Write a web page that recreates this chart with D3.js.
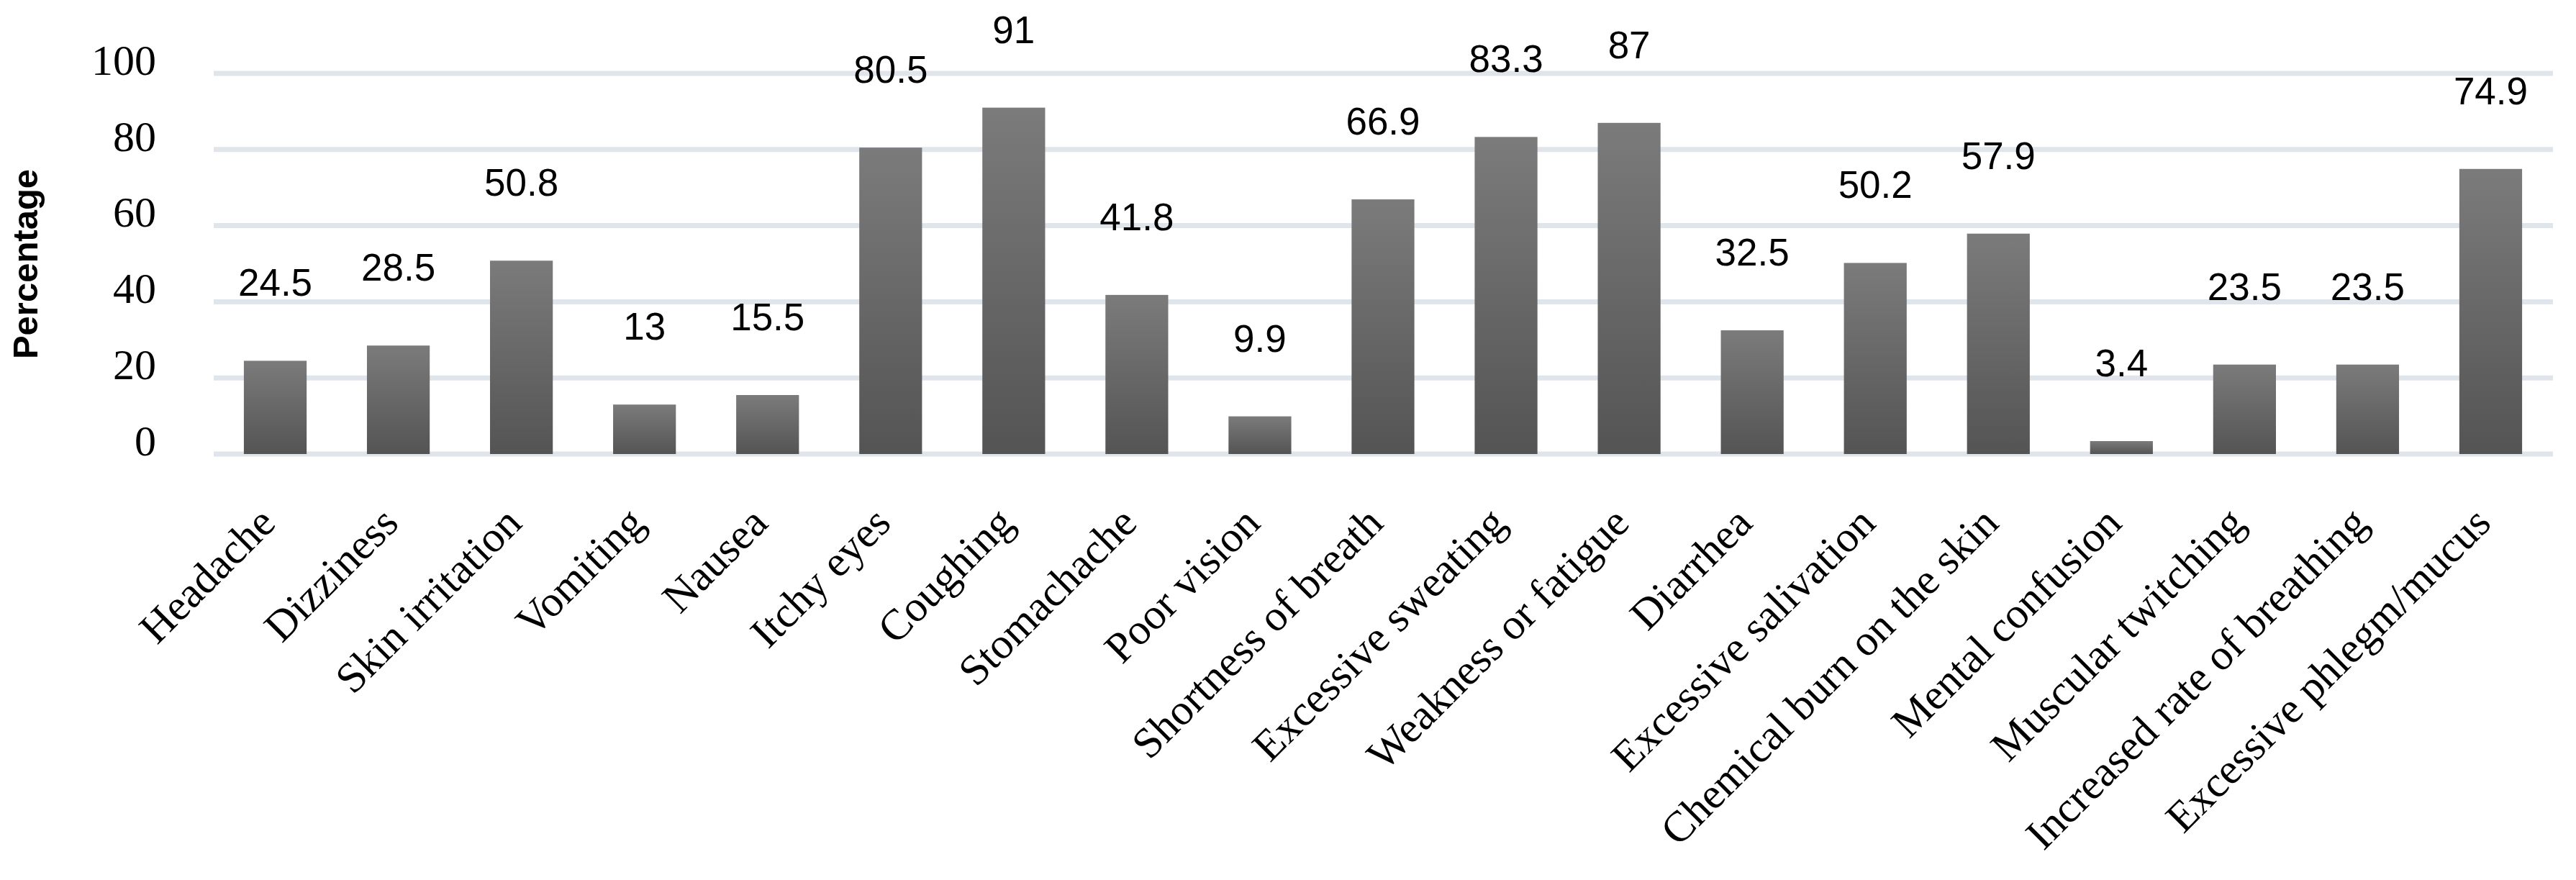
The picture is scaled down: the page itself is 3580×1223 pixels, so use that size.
<!DOCTYPE html>
<html>
<head>
<meta charset="utf-8">
<script src="https://cdn.jsdelivr.net/npm/d3@7"></script>
<style>
	body { margin: 0; background: #fff; }
	svg { display: block; }
</style>
</head>
<body>
<svg id="chart"></svg>
<script>
const width = 3580;
const height = 1223;

// data
const symptoms = ['Headache', 'Dizziness', 'Skin irritation', 'Vomiting', 'Nausea', 'Itchy eyes', 'Coughing',
	'Stomachache', 'Poor vision', 'Shortness of breath', 'Excessive sweating', 'Weakness or fatigue', 'Diarrhea',
	'Excessive salivation', 'Chemical burn on the skin', 'Mental confusion', 'Muscular twitching',
	'Increased rate of breathing', 'Excessive phlegm/mucus'];
const percentages = [24.5, 28.5, 50.8, 13, 15.5, 80.5, 91, 41.8, 9.9, 66.9, 83.3, 87, 32.5, 50.2, 57.9, 3.4, 23.5, 23.5, 74.9];
const yTicks = [0, 20, 40, 60, 80, 100];

const rows = symptoms.map((s, i) => ({ name: s, value: percentages[i] }));

const svg = d3.select('#chart')
	.attr('width', width)
	.attr('height', height);

// scales
const x = d3.scaleBand()
	.domain(symptoms)
	.range([297, 3547])
	.paddingInner(0.49)
	.paddingOuter(0.245);

const y = d3.scaleLinear()
	.domain([0, 100])
	.range([631, 102]);

// bar gradient, light on top
const grad = svg.append('defs').append('linearGradient')
	.attr('id', 'barGrad')
	.attr('x1', 0).attr('y1', 0).attr('x2', 0).attr('y2', 1);
grad.append('stop').attr('offset', '0%').attr('stop-color', '#7b7b7b');
grad.append('stop').attr('offset', '100%').attr('stop-color', '#545454');

// gridlines
svg.append('g')
	.selectAll('line')
	.data(yTicks)
	.join('line')
	.attr('x1', 297)
	.attr('x2', 3548)
	.attr('y1', d => y(d))
	.attr('y2', d => y(d))
	.attr('stroke', '#dfe5eb')
	.attr('stroke-width', 7);

// y axis labels, no domain line
const yAxis = svg.append('g')
	.attr('transform', 'translate(217,0)')
	.call(d3.axisLeft(y).tickValues(yTicks).tickSize(0).tickPadding(0));
yAxis.select('.domain').remove();
yAxis.selectAll('text')
	.attr('font-family', '"Liberation Serif", "Times New Roman", serif')
	.attr('font-size', 60)
	.attr('fill', '#000')
	.attr('dy', '0.02em');

// bars
svg.append('g')
	.selectAll('rect')
	.data(rows)
	.join('rect')
	.attr('x', d => x(d.name))
	.attr('width', x.bandwidth())
	.attr('y', d => y(d.value))
	.attr('height', d => y(0) - y(d.value))
	.attr('fill', 'url(#barGrad)');

// value labels, sitting well above the bars
svg.append('g')
	.selectAll('text')
	.data(rows)
	.join('text')
	.attr('x', d => x(d.name) + x.bandwidth() / 2)
	.attr('y', d => y(d.value) - 90)
	.attr('text-anchor', 'middle')
	.attr('font-family', '"Liberation Sans", Arial, sans-serif')
	.attr('font-size', 53)
	.attr('fill', '#000')
	.text(d => String(d.value));

// category labels rotated
svg.append('g')
	.selectAll('text')
	.data(rows)
	.join('text')
	.attr('transform', d => `translate(${x(d.name) + x.bandwidth() / 2 + 3},730) rotate(-45)`)
	.attr('text-anchor', 'end')
	.attr('font-family', '"Liberation Serif", "Times New Roman", serif')
	.attr('font-size', 60)
	.attr('fill', '#000')
	.text(d => d.name);

// y title
svg.append('text')
	.attr('transform', 'translate(52,367) rotate(-90)')
	.attr('text-anchor', 'middle')
	.attr('font-family', '"Liberation Sans", Arial, sans-serif')
	.attr('font-weight', 'bold')
	.attr('font-size', 49)
	.attr('fill', '#000')
	.text('Percentage');
</script>
</body>
</html>
